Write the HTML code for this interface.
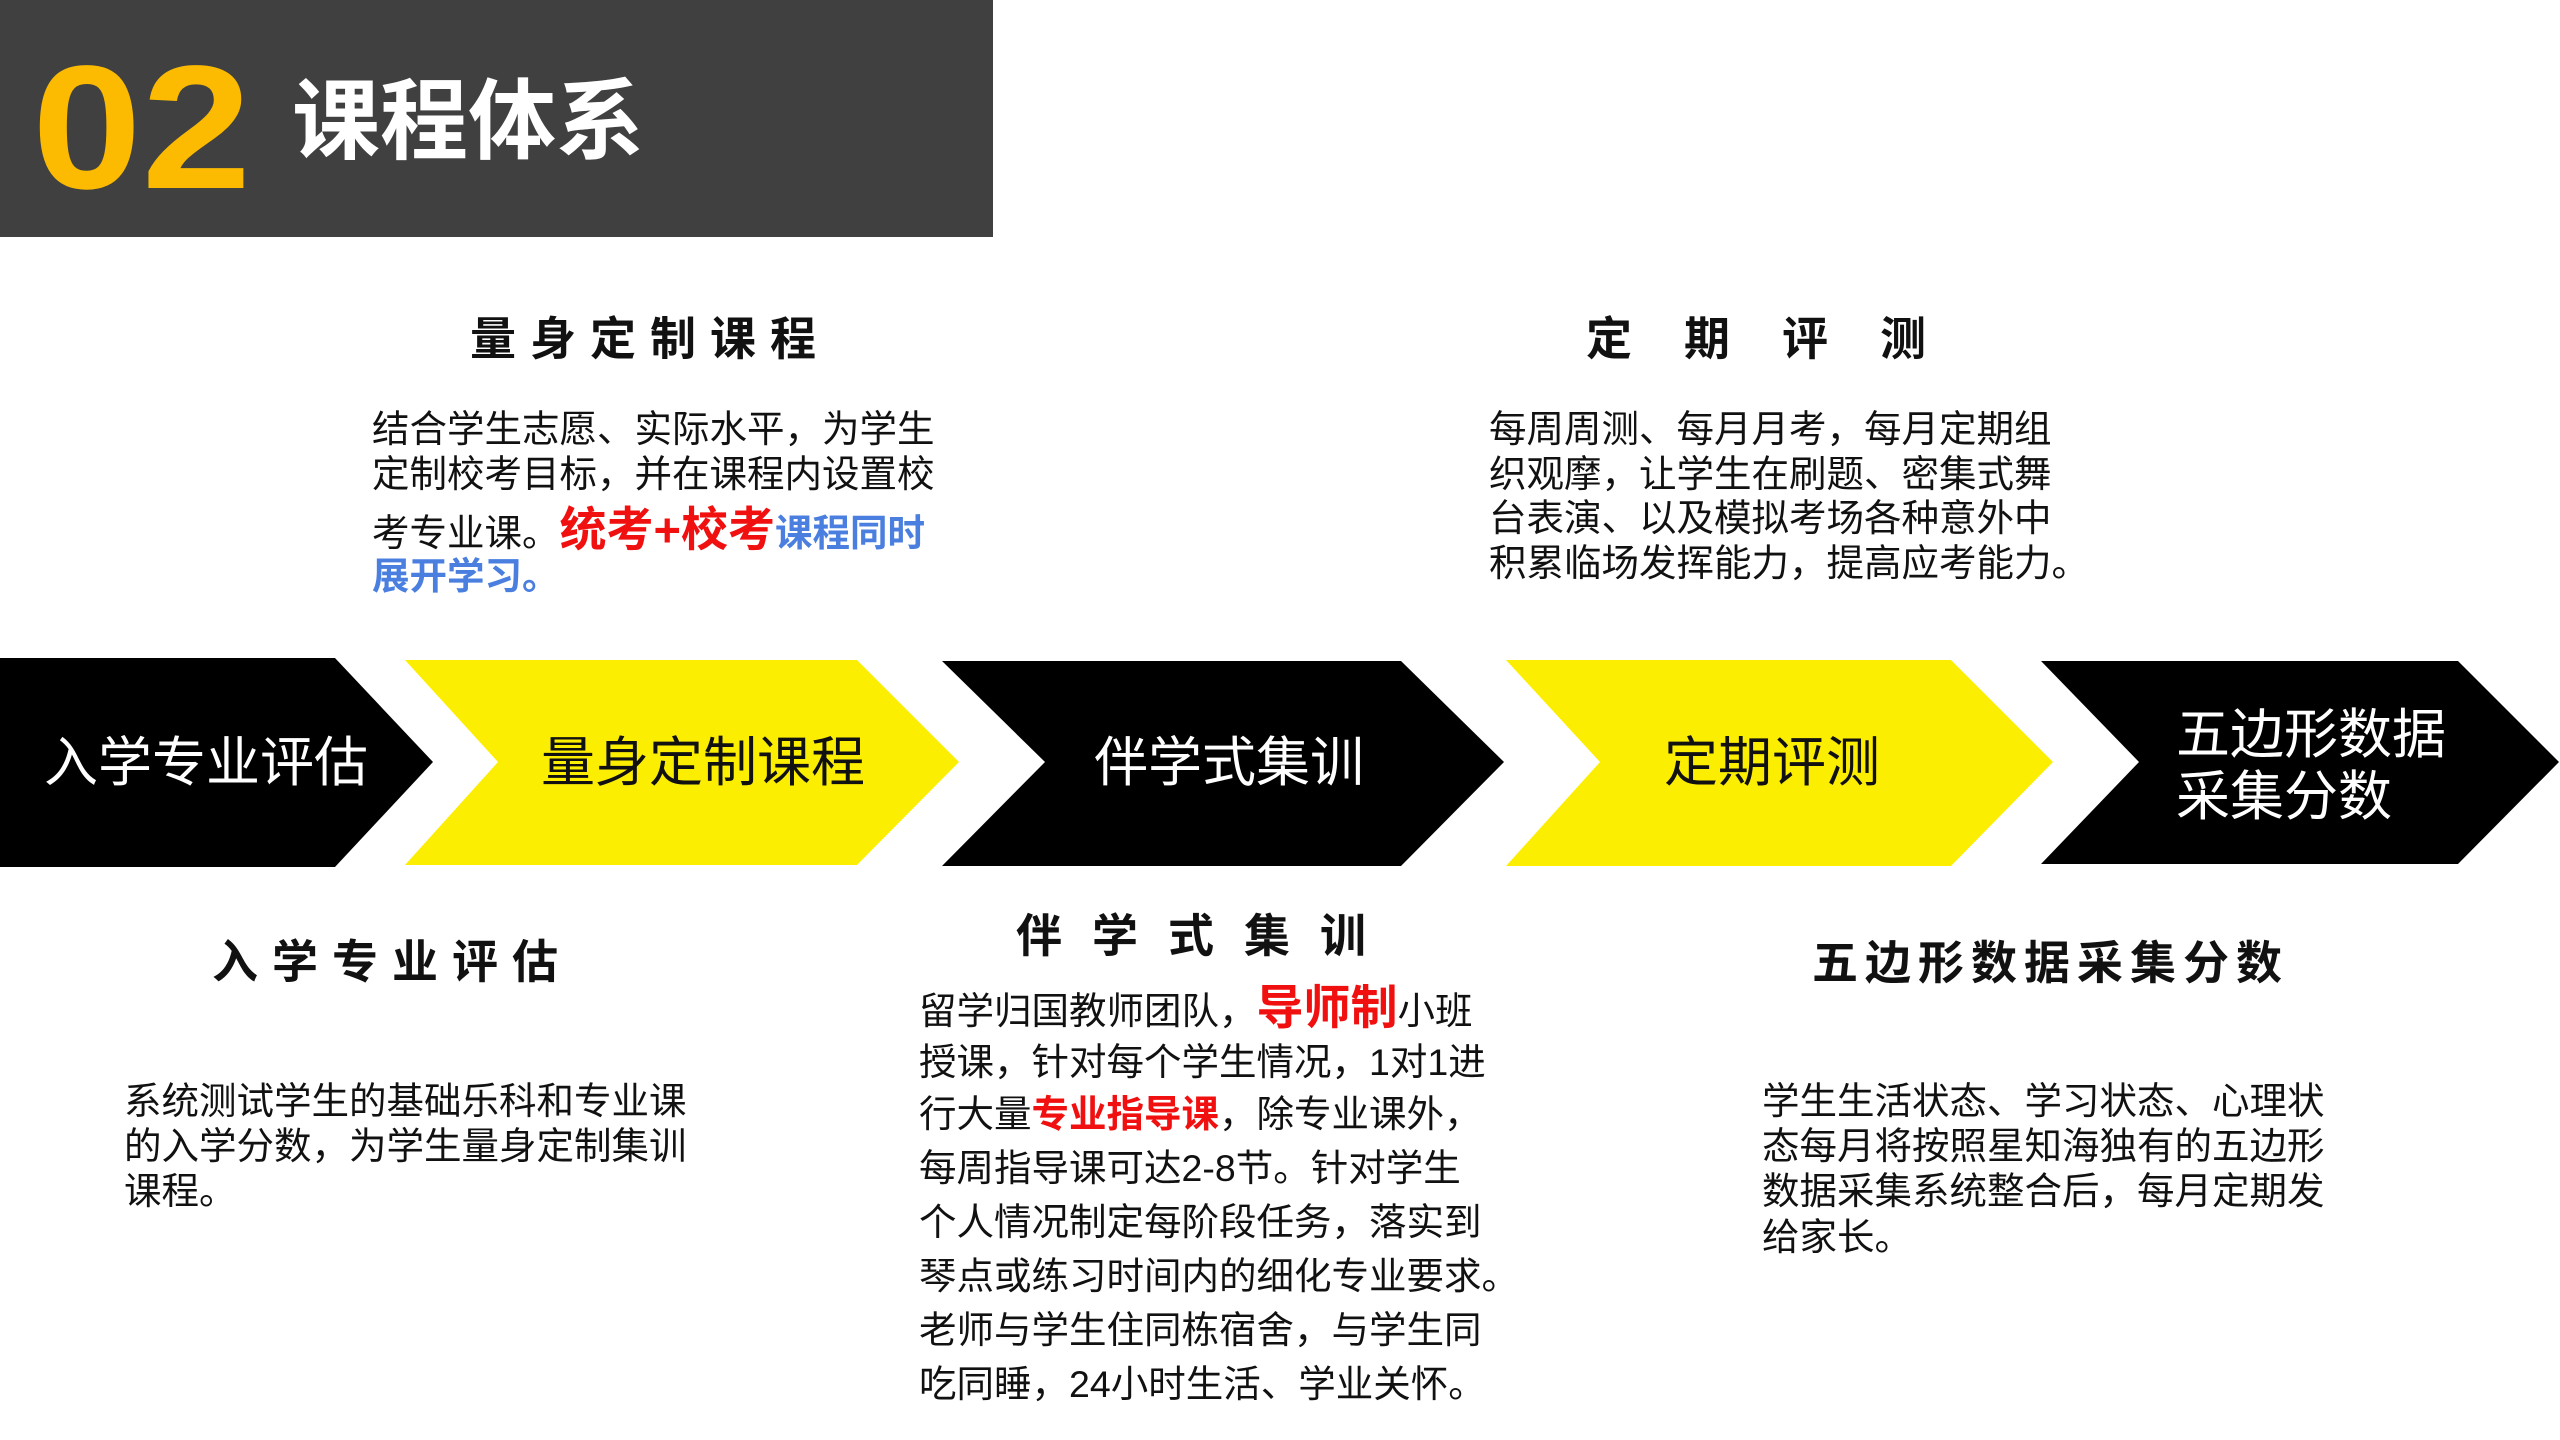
<!DOCTYPE html>
<html><head><meta charset="utf-8">
<style>
html,body{margin:0;padding:0;}
body{width:2560px;height:1440px;position:relative;background:#fff;overflow:hidden;font-family:"Liberation Sans","Noto Sans CJK SC",sans-serif;}
.a{position:absolute;white-space:nowrap;line-height:1;}
.p{font-size:37.5px;color:#111;}
.t{font-size:46px;color:#111;font-weight:bold;}
.c{font-size:54px;}
.r{color:#f01010;font-weight:bold;}
.b{color:#4a7fe0;font-weight:bold;}
</style></head><body>
<div class="a" style="left:0;top:0;width:993px;height:237px;background:#404040;"></div>
<div class="a" style="left:32px;top:40px;font-size:176px;font-weight:bold;color:#fcbb00;font-family:'Liberation Sans',sans-serif;transform:scaleX(1.12);transform-origin:left top;">02</div>
<div class="a" style="left:292px;top:78px;font-size:88px;font-weight:bold;color:#fff;">课程体系</div>

<svg class="a" style="left:0;top:0" width="2560" height="1440">
<polygon points="0,658 335,658 433,762 335,867 0,867" fill="#000"/>
<polygon points="405,660 857,660 959,762 857,865 405,865 498,762" fill="#fcee00"/>
<polygon points="942,661 1401,661 1504,762 1401,866 942,866 1045,762" fill="#000"/>
<polygon points="1506,660 1951,660 2053,762 1951,866 1506,866 1600,762" fill="#fcee00"/>
<polygon points="2041,661 2458,661 2559,762 2458,864 2041,864 2139,762" fill="#000"/>
</svg>
<div class="a c" style="left:44px;top:736px;color:#fff;">入学专业评估</div>
<div class="a c" style="left:541px;top:736px;color:#111;">量身定制课程</div>
<div class="a c" style="left:1094px;top:736px;color:#fff;">伴学式集训</div>
<div class="a c" style="left:1664px;top:736px;color:#111;">定期评测</div>
<div class="a c" style="left:2176px;top:708px;color:#fff;">五边形数据</div>
<div class="a c" style="left:2176px;top:770px;color:#fff;">采集分数</div>

<div class="a t" style="left:470px;top:316px;letter-spacing:14px;">量身定制课程</div>
<div class="a p" style="left:372px;top:411px;">结合学生志愿、实际水平，为学生</div>
<div class="a p" style="left:372px;top:456px;">定制校考目标，并在课程内设置校</div>
<div class="a p" style="left:372px;top:506px;">考专业课。<span class="r" style="font-size:47px;">统考+校考</span><span class="b">课程同时</span></div>
<div class="a p b" style="left:372px;top:558px;">展开学习。</div>

<div class="a t" style="left:1586px;top:316px;letter-spacing:52px;">定期评测</div>
<div class="a p" style="left:1489px;top:411px;">每周周测、每月月考，每月定期组</div>
<div class="a p" style="left:1489px;top:456px;">织观摩，让学生在刷题、密集式舞</div>
<div class="a p" style="left:1489px;top:500px;">台表演、以及模拟考场各种意外中</div>
<div class="a p" style="left:1489px;top:545px;">积累临场发挥能力，提高应考能力。</div>

<div class="a t" style="left:212px;top:939px;letter-spacing:14px;">入学专业评估</div>
<div class="a p" style="left:124px;top:1083px;">系统测试学生的基础乐科和专业课</div>
<div class="a p" style="left:124px;top:1128px;">的入学分数，为学生量身定制集训</div>
<div class="a p" style="left:124px;top:1173px;">课程。</div>

<div class="a t" style="left:1016px;top:913px;letter-spacing:30px;">伴学式集训</div>
<div class="a p" style="left:919px;top:984px;">留学归国教师团队，<span class="r" style="font-size:47px;">导师制</span>小班</div>
<div class="a p" style="left:919px;top:1044px;">授课，针对每个学生情况，1对1进</div>
<div class="a p" style="left:919px;top:1096px;">行大量<span class="r">专业指导课</span>，除专业课外，</div>
<div class="a p" style="left:919px;top:1150px;">每周指导课可达2-8节。针对学生</div>
<div class="a p" style="left:919px;top:1204px;">个人情况制定每阶段任务，落实到</div>
<div class="a p" style="left:919px;top:1258px;">琴点或练习时间内的细化专业要求。</div>
<div class="a p" style="left:919px;top:1312px;">老师与学生住同栋宿舍，与学生同</div>
<div class="a p" style="left:919px;top:1366px;">吃同睡，24小时生活、学业关怀。</div>

<div class="a t" style="left:1812px;top:940px;letter-spacing:7px;">五边形数据采集分数</div>
<div class="a p" style="left:1762px;top:1083px;">学生生活状态、学习状态、心理状</div>
<div class="a p" style="left:1762px;top:1128px;">态每月将按照星知海独有的五边形</div>
<div class="a p" style="left:1762px;top:1173px;">数据采集系统整合后，每月定期发</div>
<div class="a p" style="left:1762px;top:1219px;">给家长。</div>
</body></html>
